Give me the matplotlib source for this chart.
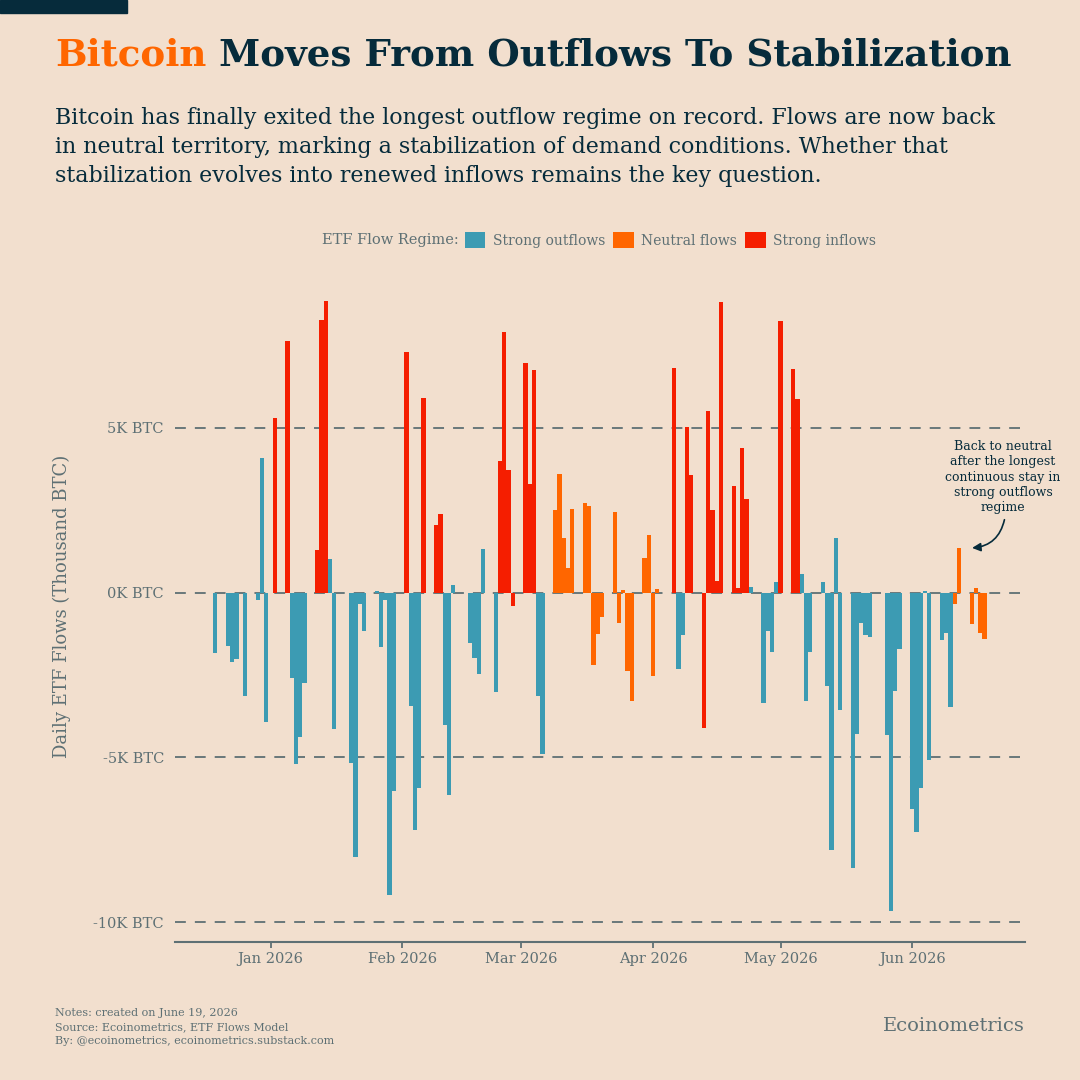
import matplotlib
matplotlib.use("Agg")
import matplotlib.pyplot as plt
import matplotlib.dates as mdates
import pandas as pd
from matplotlib.patches import Patch, Rectangle

BG = "#F2DFCE"
NAVY = "#062B3B"
GREY = "#5E7074"
REGIME_COLORS = {"o": "#3C9BB3", "n": "#FF6600", "i": "#F51E00"}
REGIME_NAMES = {"o": "Strong outflows", "n": "Neutral flows", "i": "Strong inflows"}

plt.rcParams["font.family"] = ["DejaVu Serif"]

# trading days only (US market holidays skipped)
start, end = "2025-12-19", "2026-06-18"
holidays = ["2025-12-25", "2026-01-01", "2026-01-19", "2026-02-16",
            "2026-04-03", "2026-05-25"]

# daily ETF flows, thousand BTC, one row per week
flows = [
    -1.84,
    -1.61, -2.12, -2.00, -3.15,
    -0.22, 4.07, -3.93, 5.30,
    7.63, -2.58, -5.19, -4.37, -2.74,
    1.29, 8.26, 8.86, 1.02, -4.13,
    -5.17, -8.01, -0.36, -1.15,
    0.06, -1.66, -0.22, -9.16, -6.02,
    7.30, -3.45, -7.20, -5.93, 5.89,
    2.05, 2.38, -4.02, -6.13, 0.22,
    -1.53, -1.99, -2.48, 1.32,
    -3.01, 3.98, 7.92, 3.73, -0.41,
    6.97, 3.28, 6.76, -3.14, -4.91,
    2.52, 3.60, 1.65, 0.76, 2.54,
    2.73, 2.64, -2.20, -1.27, -0.74,
    2.44, -0.93, 0.09, -2.39, -3.28,
    1.04, 1.75, -2.54, 0.11,
    6.82, -2.31, -1.30, 5.02, 3.57,
    -4.11, 5.52, 2.51, 0.35, 8.82,
    3.23, 0.15, 4.39, 2.85, 0.17,
    -3.35, -1.15, -1.80, 0.31, 8.25,
    6.77, 5.86, 0.56, -3.28, -1.81,
    0.32, -2.83, -7.82, 1.65, -3.56,
    -8.37, -4.29, -0.92, -1.30, -1.35,
    -4.32, -9.65, -2.99, -1.70,
    -6.58, -7.26, -5.93, 0.05, -5.09,
    -1.43, -1.22, -3.46, -0.35, 1.35,
    -0.96, 0.14, -1.24, -1.40,
]

# o = strong outflows, n = neutral, i = strong inflows
regime = "".join([
    "o", "oooo", "oooi", "ioooo", "iiioo", "oooo", "ooooo",
    "ioooi", "iiooo", "oooo", "oiiii", "iiioo",
    "nnnnn", "nnnnn", "nnnnn", "nnnn",
    "iooii", "iiiii", "iiiio", "ooooi", "iiooo",
    "ooooo", "ooooo", "oooo", "ooooo", "ooonn", "nnnn",
])

dates = pd.bdate_range(start, end, freq="C", holidays=holidays)
assert len(dates) == len(flows) == len(regime)

yticks = [-10, -5, 0, 5]
ytick_labels = ["-10K BTC", "-5K BTC", "0K BTC", "5K BTC"]

subtitle = [
    "Bitcoin has finally exited the longest outflow regime on record. Flows are now back",
    "in neutral territory, marking a stabilization of demand conditions. Whether that",
    "stabilization evolves into renewed inflows remains the key question.",
]
note_lines = [
    "Notes: created on June 19, 2026",
    "Source: Ecoinometrics, ETF Flows Model",
    "By: @ecoinometrics, ecoinometrics.substack.com",
]
callout = ["Back to neutral", "after the longest", "continuous stay in",
           "strong outflows", "regime"]


def fy(px):
    return 1 - px / 1080


fig = plt.figure(figsize=(10.8, 10.8), dpi=100, facecolor=BG)
fig.patches.append(Rectangle((0, fy(12.5)), 127 / 1080, 12.5 / 1080,
                             transform=fig.transFigure, color=NAVY))

ax = fig.add_axes([175 / 1080, 138 / 1080, 850 / 1080, 652 / 1080])
ax.set_facecolor(BG)

# title in two colours, second part glued to the first
t1 = fig.text(55 / 1080, fy(66), "Bitcoin", color="#FF6600", fontsize=26.8,
              fontweight="bold", va="baseline")
ax.annotate(" Moves From Outflows To Stabilization", xy=(1, 0), xycoords=t1,
            color=NAVY, fontsize=26.8, fontweight="bold", va="bottom", ha="left",
            annotation_clip=False)

for k, line in enumerate(subtitle):
    fig.text(55 / 1080, fy(124 + 29 * k), line, color=NAVY, fontsize=15.9,
             va="baseline")

# legend row
fig.text(322 / 1080, fy(240), "ETF Flow Regime:", color=GREY, fontsize=10.5,
         va="center")
handles = [Patch(facecolor=REGIME_COLORS[r], edgecolor="none", label=REGIME_NAMES[r])
           for r in "oni"]
leg = fig.legend(handles=handles, ncol=3, loc="center left",
                 bbox_to_anchor=(465 / 1080, fy(240)), frameon=False,
                 fontsize=10, handlelength=1.45, handleheight=1.45,
                 handletextpad=0.55, columnspacing=0.6, borderpad=0,
                 borderaxespad=0)
for txt in leg.get_texts():
    txt.set_color(GREY)

for y in yticks:
    ax.axhline(y, color=GREY, lw=1.3, dashes=(6, 5), zorder=1)

ax.bar(dates, flows, width=1.0, color=[REGIME_COLORS[r] for r in regime],
       linewidth=0, zorder=2)

ax.set_xlim(dates[0] - pd.Timedelta(days=9.5), dates[-1] + pd.Timedelta(days=9.5))
ax.set_ylim(-10.6, 9.18)

ax.set_yticks(yticks)
ax.set_yticklabels(ytick_labels)
ax.xaxis.set_major_locator(mdates.MonthLocator(bymonth=range(1, 7)))
ax.xaxis.set_major_formatter(mdates.DateFormatter("%b %Y"))
ax.tick_params(axis="y", length=0, pad=8, labelsize=10.5, labelcolor=GREY)
ax.tick_params(axis="x", length=4, width=1.3, color=GREY, pad=3,
               labelsize=10.5, labelcolor=GREY)
for side in ["top", "left", "right"]:
    ax.spines[side].set_visible(False)
ax.spines["bottom"].set_color(GREY)
ax.spines["bottom"].set_linewidth(1.5)

fig.text(62 / 1080, fy(606), "Daily ETF Flows (Thousand BTC)", rotation=90,
         color=GREY, fontsize=13, ha="center", va="center")

# callout for the return to neutral flows
for k, line in enumerate(callout):
    fig.text(1003 / 1080, fy(450.5 + 15 * k), line, color=NAVY, fontsize=9,
             ha="center", va="baseline")
jun12 = dates.get_loc(pd.Timestamp("2026-06-12"))
ax.annotate("", xy=(dates[jun12] + pd.Timedelta(days=2.4), flows[jun12]),
            xytext=(1005 / 1080, fy(517)), textcoords="figure fraction",
            arrowprops=dict(arrowstyle="-|>,head_length=0.5,head_width=0.25",
                            connectionstyle="arc3,rad=-0.4", color=NAVY, lw=1.2),
            annotation_clip=False)

for k, line in enumerate(note_lines):
    fig.text(55 / 1080, fy(1016 + 14 * k), line, color=GREY, fontsize=8,
             va="baseline")
fig.text(1025 / 1080, fy(1031), "Ecoinometrics", color=GREY, fontsize=14,
         ha="right", va="baseline")

fig.savefig("out.png", dpi=100, facecolor=BG)
